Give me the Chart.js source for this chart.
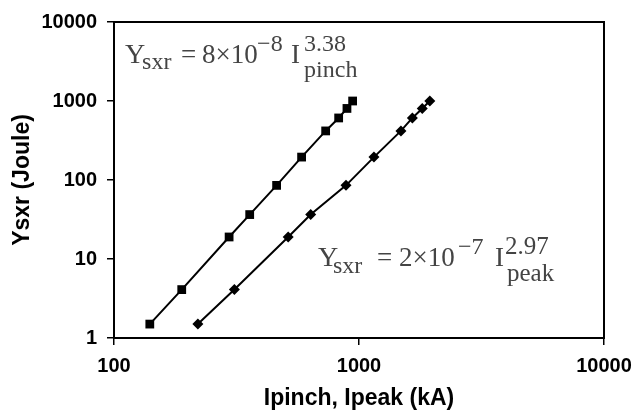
<!DOCTYPE html>
<html>
<head>
<meta charset="utf-8">
<script src="https://cdn.jsdelivr.net/npm/chart.js@4.4.0/dist/chart.umd.min.js"></script>
<style>
  html, body { margin: 0; padding: 0; background: #fff; }
  #wrap { width: 644px; height: 414px; }
</style>
</head>
<body>
<div id="wrap"><canvas id="c"></canvas></div>
<script>
// Ysxr (J) measured for each shot, against pinch current and peak current (kA)
const ysxr = [1.5, 4.1, 19, 36.5, 85.5, 195, 418, 610, 805, 1000];
const ipinch = [140, 189, 295, 358, 461, 583, 731, 826, 893, 942];
const ipeak = [220, 310, 514, 635, 885, 1151, 1483, 1651, 1812, 1945];

const xTicks = [100, 1000, 10000];
const yTicks = [1, 10, 100, 1000, 10000];

// where each fit formula starts (data coords)
const fitPinchAt = { x: 111, y: 2985 };
const fitPeakAt = { x: 680, y: 8.17 };

const toPoints = (xs) => xs.map((x, i) => ({ x: x, y: ysxr[i] }));

const serif = '"Liberation Serif", "Times New Roman", serif';
const formulas = [
  {
    at: fitPinchAt,
    parts: [
      ['Y', 0, 0, 28], ['sxr', 17, 6, 24], ['=', 56, 0, 27], ['8×10', 77, 0, 27],
      ['−8', 132, -12, 24], ['I', 166, 0, 27], ['3.38', 179, -12, 24], ['pinch', 179, 14, 24]
    ]
  },
  {
    at: fitPeakAt,
    parts: [
      ['Y', 0, 0, 28], ['sxr', 15, 7, 24], ['=', 59, 0, 27], ['2×10', 81, 0, 27],
      ['−7', 140, -12, 24], ['I', 177, 0, 27], ['2.97', 187, -12, 25], ['peak', 189, 15, 25]
    ]
  }
];

const framePlugin = {
  id: 'frame',
  afterDatasetsDraw(chart) {
    const { ctx, chartArea: a, scales } = chart;
    ctx.save();
    ctx.strokeStyle = '#000';
    ctx.lineWidth = 2;
    ctx.strokeRect(a.left, a.top, a.right - a.left, a.bottom - a.top);

    ctx.fillStyle = '#444';
    ctx.textBaseline = 'alphabetic';
    ctx.textAlign = 'left';
    formulas.forEach(f => {
      const x0 = scales.x.getPixelForValue(f.at.x);
      const y0 = scales.y.getPixelForValue(f.at.y);
      f.parts.forEach(([txt, dx, dy, size]) => {
        ctx.font = size + 'px ' + serif;
        ctx.fillText(txt, x0 + dx, y0 + dy);
      });
    });
    ctx.restore();
  }
};

const tickFont = { family: '"Liberation Sans", Arial, sans-serif', size: 20, weight: 'bold' };
const titleFont = { family: '"Liberation Sans", Arial, sans-serif', size: 23, weight: 'bold' };

new Chart(document.getElementById('c'), {
  type: 'line',
  data: {
    datasets: [
      {
        label: 'Ipinch',
        data: toPoints(ipinch),
        borderColor: '#000',
        backgroundColor: '#000',
        borderWidth: 2,
        pointStyle: 'rect',
        pointRadius: 6.2,
        pointBorderWidth: 0,
        tension: 0
      },
      {
        label: 'Ipeak',
        data: toPoints(ipeak),
        borderColor: '#000',
        backgroundColor: '#000',
        borderWidth: 2,
        pointStyle: 'rectRot',
        pointRadius: 5.5,
        pointBorderWidth: 0,
        tension: 0
      }
    ]
  },
  options: {
    responsive: true,
    maintainAspectRatio: false,
    animation: false,
    layout: { padding: { left: 0, top: 17, right: 40, bottom: 0 } },
    plugins: { legend: { display: false }, tooltip: { enabled: false } },
    scales: {
      x: {
        type: 'logarithmic',
        min: 100,
        max: 10000,
        afterBuildTicks: (axis) => { axis.ticks = xTicks.map(v => ({ value: v })); },
        afterFit: (axis) => { axis.height = 76; },
        border: { color: '#000', width: 2 },
        grid: { drawOnChartArea: false, color: '#000', lineWidth: 1.5, tickLength: 7 },
        ticks: {
          color: '#000',
          font: tickFont,
          padding: 9,
          maxRotation: 0,
          callback: (v) => String(v)
        },
        title: {
          display: true,
          text: 'Ipinch, Ipeak (kA)',
          color: '#000',
          font: titleFont,
          padding: { top: 0, bottom: 2 }
        }
      },
      y: {
        type: 'logarithmic',
        min: 1,
        max: 10000,
        afterBuildTicks: (axis) => { axis.ticks = yTicks.map(v => ({ value: v })); },
        afterFit: (axis) => { axis.width = 114; },
        border: { color: '#000', width: 2 },
        grid: { drawOnChartArea: false, color: '#000', lineWidth: 1.5, tickLength: 7 },
        ticks: {
          color: '#000',
          font: tickFont,
          padding: 10,
          callback: (v) => String(v)
        },
        title: {
          display: true,
          text: 'Ysxr (Joule)',
          color: '#000',
          font: titleFont,
          padding: { top: 9, bottom: 0 }
        }
      }
    }
  },
  plugins: [framePlugin]
});
</script>
</body>
</html>
